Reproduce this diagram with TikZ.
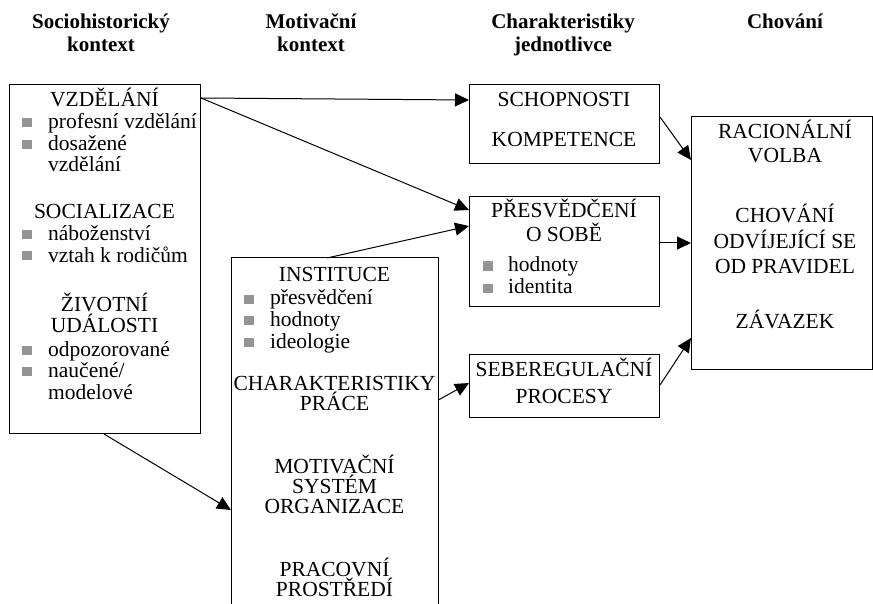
\documentclass[tikz,border=0pt]{standalone}
\usepackage{fontspec}
\setmainfont{Liberation Serif}
\usetikzlibrary{arrows.meta}
\tikzset{
  box/.style={draw, line width=1pt, anchor=north west, inner sep=0pt},
  head/.style={anchor=base, inner sep=0pt, font=\fontsize{21}{23}\selectfont\bfseries},
  lbl/.style={anchor=base, inner sep=0pt, font=\fontsize{21.5}{21}\selectfont},
  item/.style={anchor=base west, inner sep=0pt, font=\fontsize{21.5}{21}\selectfont},
  bul/.style={fill=black!42, minimum width=9.5pt, minimum height=9pt, inner sep=0pt},
  link/.style={line width=1pt, -{Triangle[length=14pt,width=13pt]}},
}
\begin{document}
\begin{tikzpicture}[x=1pt, y=-1pt]
\useasboundingbox (0,0) rectangle (873,604);

% column headings
\node[head] (h1a) at (101,29) {Sociohistorický};
\node[head] (h1b) at (101,52) {kontext};
\node[head] (h2a) at (311,29) {Motivační};
\node[head] (h2b) at (311,52) {kontext};
\node[head] (h3a) at (563,29) {Charakteristiky};
\node[head] (h3b) at (563,52) {jednotlivce};
\node[head] (h4a) at (785,29) {Chování};

% boxes
\node[box, minimum width=191pt, minimum height=349pt] (b1) at (9,84) {};
\node[anchor=north west, inner sep=0pt, minimum width=207pt, minimum height=350pt] (b2) at (231,258) {};
\draw[line width=1pt] (b2.south west) -- (b2.north west) -- (b2.north east) -- (b2.south east);
\node[box, minimum width=190pt, minimum height=79pt] (sch) at (469,84) {};
\node[box, minimum width=190pt, minimum height=110pt] (pre) at (469,196) {};
\node[box, minimum width=190pt, minimum height=63pt] (seb) at (469,354) {};
\node[box, minimum width=181pt, minimum height=253pt] (cho) at (691,116) {};

% sociohistorical context
\node[lbl] (v1) at (104.5,107) {VZDĚLÁNÍ};
\node[bul] (p1) at (27,123) {};
\node[item] (v2) at (48,129) {profesní vzdělání};
\node[bul] (p2) at (27,145) {};
\node[item] (v3) at (48,151) {dosažené};
\node[item] (v4) at (48,172) {vzdělání};
\node[lbl] (s1) at (104.5,219) {SOCIALIZACE};
\node[bul] (p3) at (27,235) {};
\node[item] (s2) at (48,241) {náboženství};
\node[bul] (p4) at (27,256) {};
\node[item] (s3) at (48,262) {vztah k rodičům};
\node[lbl] (z1) at (104.5,311) {ŽIVOTNÍ};
\node[lbl] (z2) at (104.5,332) {UDÁLOSTI};
\node[bul] (p5) at (27,350) {};
\node[item] (z3) at (48,356) {odpozorované};
\node[bul] (p6) at (27,371) {};
\node[item] (z4) at (48,377) {naučené/};
\node[item] (z5) at (48,399) {modelové};

% motivational context
\node[lbl] (i1) at (334.5,281) {INSTITUCE};
\node[bul] (p7) at (249,299) {};
\node[item] (i2) at (270,305) {přesvědčení};
\node[bul] (p8) at (249,320) {};
\node[item] (i3) at (270,326) {hodnoty};
\node[bul] (p9) at (249,342) {};
\node[item] (i4) at (270,348) {ideologie};
\node[lbl] (c1) at (334.5,390) {CHARAKTERISTIKY};
\node[lbl] (c2) at (334.5,410) {PRÁCE};
\node[lbl] (m1) at (334.5,473) {MOTIVAČNÍ};
\node[lbl] (m2) at (334.5,493) {SYSTÉM};
\node[lbl] (m3) at (334.5,513) {ORGANIZACE};
\node[lbl] (r1) at (334.5,576) {PRACOVNÍ};
\node[lbl] (r2) at (334.5,596) {PROSTŘEDÍ};

% individual characteristics
\node[lbl] (k1) at (564,107) {SCHOPNOSTI};
\node[lbl] (k2) at (564,147) {KOMPETENCE};
\node[lbl] (o1) at (564,218) {PŘESVĚDČENÍ};
\node[lbl] (o2) at (564,242) {O SOBĚ};
\node[bul] (p10) at (488,266) {};
\node[item] (o3) at (508,272) {hodnoty};
\node[bul] (p11) at (488,288) {};
\node[item] (o4) at (508,294) {identita};
\node[lbl] (e1) at (564,376) {SEBEREGULAČNÍ};
\node[lbl] (e2) at (564,403) {PROCESY};

% behaviour
\node[lbl] (q1) at (785,139) {RACIONÁLNÍ};
\node[lbl] (q2) at (785,163) {VOLBA};
\node[lbl] (q3) at (785,223) {CHOVÁNÍ};
\node[lbl] (q4) at (785,248) {ODVÍJEJÍCÍ SE};
\node[lbl] (q5) at (785,273) {OD PRAVIDEL};
\node[lbl] (q6) at (785,328) {ZÁVAZEK};

% connectors
\draw[link] (b1.east |- 0,98) -- (sch.west |- 0,100);
\draw[link] (b1.east |- 0,98) -- (pre.west |- 0,210);
\draw[link] (b2.north -| 327,0) -- (pre.west |- 0,226);
\draw[link] (b2.east |- 0,400) -- (seb.west |- 0,383);
\draw[link] (b1.south -| 104,0) -- (b2.west |- 0,510);
\draw[link] (sch.east |- 0,117) -- (cho.west |- 0,160);
\draw[link] (pre.east |- 0,243) -- (cho.west |- 0,243);
\draw[link] (seb.east |- 0,385) -- (cho.west |- 0,338);
\end{tikzpicture}
\end{document}
